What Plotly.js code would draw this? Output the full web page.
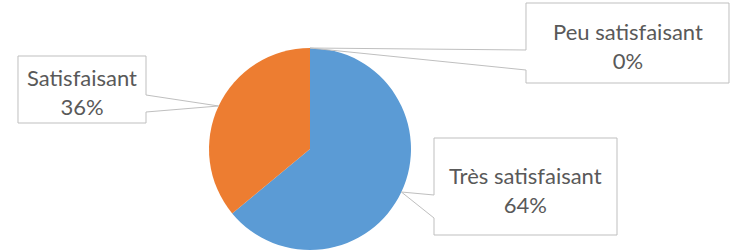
<!DOCTYPE html>
<html>
<head>
<meta charset="utf-8">
<script src="https://cdn.plot.ly/plotly-3.0.1.min.js"></script>
<style>html,body{margin:0;padding:0;background:#fff;}#chart{width:731px;height:250px;}</style>
</head>
<body>
<div id="chart"></div>
<script>
// Data
const categories = ["Très satisfaisant", "Satisfaisant", "Peu satisfaisant"];
const values = [64, 36, 0];
const percentLabels = ["64%", "36%", "0%"];
const colors = ["#5B9BD5", "#ED7D31", "#A5A5A5"];

// Layout geometry (pixels)
const W = 731, H = 250;
const cx = 310, cy = 149, R = 101;
const px = x => x / W;
const py = y => (H - y) / H;

// Callout boxes: [left, top, right, bottom], side of tail, tail anchors (y for left/right side)
const boxes = [
  {box: [434, 138, 617, 235], side: "left", a1: 195, a2: 218, textY: 190},
  {box: [18, 56, 146, 123], side: "right", a1: 95, a2: 112, textY: 92},
  {box: [526, 3, 729, 83], side: "left", a1: 50, a2: 70, textY: 46}
];

// Tips on pie perimeter computed from data (clockwise from top)
const total = values.reduce((a, b) => a + b, 0);
let cum = 0;
const tips = values.map(v => {
  const mid = (cum + v / 2) / total;
  cum += v;
  const ang = mid * 2 * Math.PI;
  return [cx + R * Math.sin(ang), cy - R * Math.cos(ang)];
});

const shapes = [];
const annotations = [];
boxes.forEach((b, i) => {
  const [l, t, r, btm] = b.box;
  const tip = tips[i];
  let pts;
  if (b.side === "left") {
    pts = [[l, t], [r, t], [r, btm], [l, btm], [l, b.a2], tip, [l, b.a1]];
  } else {
    pts = [[l, t], [r, t], [r, b.a1], tip, [r, b.a2], [r, btm], [l, btm]];
  }
  const path = "M " + pts.map(p => px(p[0]).toFixed(5) + "," + py(p[1]).toFixed(5)).join(" L ") + " Z";
  shapes.push({
    type: "path", xref: "paper", yref: "paper", path: path,
    fillcolor: "#ffffff", line: {color: "#BFBFBF", width: 1}, layer: "above"
  });
  annotations.push({
    xref: "paper", yref: "paper", x: px((l + r) / 2), y: py(b.textY),
    xanchor: "center", yanchor: "middle", showarrow: false,
    text: categories[i] + "<br>" + percentLabels[i],
    font: {family: "Lato, 'Open Sans', sans-serif", size: 22, color: "#595959"},
    align: "center"
  });
});

const data = [{
  type: "pie",
  labels: categories,
  values: values,
  sort: false,
  direction: "clockwise",
  rotation: 0,
  textinfo: "none",
  hoverinfo: "label+percent",
  marker: {colors: colors, line: {width: 0}},
  domain: {x: [px(cx - R), px(cx + R)], y: [py(cy + R), py(cy - R)]},
  showlegend: false
}];

const layout = {
  width: W, height: H,
  margin: {l: 0, r: 0, t: 0, b: 0},
  paper_bgcolor: "#ffffff",
  showlegend: false,
  shapes: shapes,
  annotations: annotations
};

Plotly.newPlot("chart", data, layout, {staticPlot: true, displayModeBar: false});
</script>
</body>
</html>
